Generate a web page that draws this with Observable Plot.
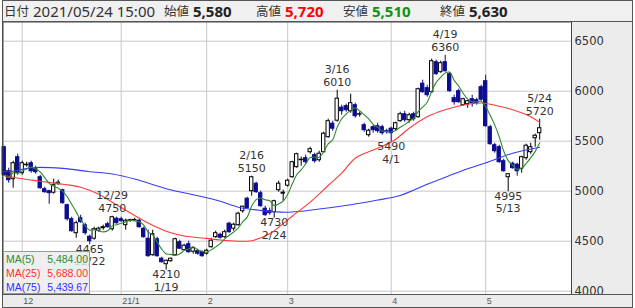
<!DOCTYPE html>
<html><head><meta charset="utf-8">
<script src="https://cdn.jsdelivr.net/npm/d3@7"></script>
<script src="https://cdn.jsdelivr.net/npm/@observablehq/plot@0.6"></script>
<style>
body{margin:0;background:#fff;}
#wrap{position:relative;width:635px;height:308px;overflow:hidden;}
#frame{position:absolute;left:2px;top:0;width:631px;height:308px;box-sizing:border-box;border:1px solid #555;background:#ececec;}
#hdr{position:absolute;left:2px;top:0;width:631px;height:22px;box-sizing:border-box;border:1px solid #555;background:#f0f0f0;}
.h{position:absolute;top:1px;line-height:20px;white-space:nowrap;}
.lab{font-family:"Noto Sans CJK JP";font-size:12.5px;color:#333;}
.dt{font-family:"Noto Sans";font-size:15px;color:#333;}
.val{font-family:"Noto Sans";font-weight:bold;font-size:15px;color:#222;}
#chart{position:absolute;left:0;top:21px;}
#strip{position:absolute;left:2px;top:294px;width:631px;border-top:1px solid #555;}
#legend{position:absolute;left:3px;top:251px;width:87px;height:43px;box-sizing:border-box;border:1px solid #999;background:rgba(236,236,236,0.85);font-family:"Liberation Sans";font-size:10.5px;}
#legend div{position:absolute;left:2px;width:82px;line-height:14px;}
#legend span.v{position:absolute;right:0;}
</style></head>
<body>
<div id="wrap">
  <div id="frame"></div>
  <div id="chart"></div>
  <div id="strip"></div>
  <div id="hdr"></div>
  <div class="h lab" style="left:4px">日付</div>
  <div class="h dt" style="left:33px" id="hdate"></div>
  <div class="h lab" style="left:164px">始値</div>
  <div class="h val" style="left:193px" id="hopen"></div>
  <div class="h lab" style="left:256px">高値</div>
  <div class="h val" style="left:285px;color:#f00" id="hhigh"></div>
  <div class="h lab" style="left:343px">安値</div>
  <div class="h val" style="left:372px;color:#129012" id="hlow"></div>
  <div class="h lab" style="left:440px">終値</div>
  <div class="h val" style="left:469px" id="hclose"></div>
  <div id="legend"></div>
</div>
<script>
const dates = [
"2020-11-25","2020-11-26","2020-11-27","2020-11-30",
"2020-12-01","2020-12-02","2020-12-03","2020-12-04","2020-12-07","2020-12-08","2020-12-09","2020-12-10","2020-12-11","2020-12-14","2020-12-15","2020-12-16","2020-12-17","2020-12-18","2020-12-21","2020-12-22","2020-12-23","2020-12-24","2020-12-25","2020-12-28","2020-12-29","2020-12-30",
"2021-01-04","2021-01-05","2021-01-06","2021-01-07","2021-01-08","2021-01-12","2021-01-13","2021-01-14","2021-01-15","2021-01-18","2021-01-19","2021-01-20","2021-01-21","2021-01-22","2021-01-25","2021-01-26","2021-01-27","2021-01-28","2021-01-29",
"2021-02-01","2021-02-02","2021-02-03","2021-02-04","2021-02-05","2021-02-08","2021-02-09","2021-02-10","2021-02-12","2021-02-15","2021-02-16","2021-02-17","2021-02-18","2021-02-19","2021-02-22","2021-02-24","2021-02-25","2021-02-26",
"2021-03-01","2021-03-02","2021-03-03","2021-03-04","2021-03-05","2021-03-08","2021-03-09","2021-03-10","2021-03-11","2021-03-12","2021-03-15","2021-03-16","2021-03-17","2021-03-18","2021-03-19","2021-03-22","2021-03-23","2021-03-24","2021-03-25","2021-03-26","2021-03-29","2021-03-30","2021-03-31",
"2021-04-01","2021-04-02","2021-04-05","2021-04-06","2021-04-07","2021-04-08","2021-04-09","2021-04-12","2021-04-13","2021-04-14","2021-04-15","2021-04-16","2021-04-19","2021-04-20","2021-04-21","2021-04-22","2021-04-23","2021-04-26","2021-04-27","2021-04-28","2021-04-30",
"2021-05-06","2021-05-07","2021-05-10","2021-05-11","2021-05-12","2021-05-13","2021-05-14","2021-05-17","2021-05-18","2021-05-19","2021-05-20","2021-05-21","2021-05-24"];

const opens = [5440,5200,5120,5340,
5180,5260,5280,5230,5140,5020,5000,4985,5070,5010,4860,4720,4580,4730,4660,4545,4525,4605,4630,4670,4620,4725,
4720,4660,4705,4710,4705,4625,4525,4360,4520,4325,4270,4300,4360,4490,4410,4470,4395,4400,4390,
4375,4440,4540,4565,4540,4675,4625,4660,4800,4925,5000,5075,4980,4825,4800,4790,5010,4975,
5055,5140,5240,5310,5330,5390,5360,5310,5390,5540,5675,5705,5835,5850,5800,5860,5765,5660,5560,5640,5650,5640,5600,
5625,5620,5700,5770,5710,5770,5740,6075,6030,5990,6290,6190,6290,6170,5930,6000,5860,5870,5920,5910,6040,
6100,5640,5460,5440,5300,5140,5275,5265,5225,5330,5390,5530,5580];
const highs = [5450,5230,5300,5370,
5300,5290,5300,5250,5160,5040,5010,5120,5110,5020,4870,4740,4700,4760,4680,4560,4640,4640,4660,4690,4750,4740,
4740,4720,4720,4730,4720,4640,4610,4610,4540,4340,4310,4330,4530,4510,4470,4500,4440,4420,4400,
4420,4530,4600,4580,4610,4690,4680,4790,4850,4940,5150,5090,5000,4850,4830,4910,5100,5010,
5120,5300,5380,5340,5360,5440,5380,5400,5590,5720,5700,6010,5860,5870,5970,5880,5790,5680,5620,5660,5680,5660,5620,
5640,5690,5790,5800,5780,5790,6030,6110,6060,6320,6310,6300,6360,6190,5960,6020,5930,5910,5960,5930,6060,
6160,5660,5480,5460,5320,5175,5290,5280,5350,5470,5480,5570,5720];
const lows = [5150,5080,5030,5160,
5160,5240,5180,5170,5020,4980,4870,4970,5060,4870,4700,4590,4530,4680,4560,4465,4510,4590,4610,4630,4600,4670,
4690,4610,4690,4700,4630,4530,4340,4350,4340,4280,4210,4290,4350,4420,4400,4380,4370,4360,4340,
4360,4430,4530,4520,4530,4580,4600,4650,4780,4820,4950,4980,4840,4750,4760,4730,4990,4900,
5040,5130,5230,5250,5270,5370,5280,5290,5380,5530,5600,5690,5760,5790,5780,5730,5740,5590,5540,5580,5580,5560,5570,
5490,5600,5690,5690,5680,5700,5730,5980,5940,5980,6160,6180,6190,5990,5860,5880,5850,5830,5840,5860,5900,
5640,5460,5380,5280,5190,4995,5220,5150,5180,5310,5370,5440,5510];
const closes = [5160,5110,5280,5180,
5280,5265,5200,5190,5030,4990,4980,5060,5085,4880,4720,4600,4680,4690,4580,4500,4620,4625,4640,4640,4740,4680,
4700,4705,4710,4712,4640,4540,4350,4570,4350,4290,4305,4325,4520,4425,4455,4390,4430,4375,4350,
4405,4505,4580,4535,4590,4590,4665,4775,4845,4830,5140,4990,4850,4760,4780,4900,5075,4985,
5105,5290,5370,5315,5290,5420,5300,5375,5575,5700,5625,5925,5800,5810,5880,5750,5770,5610,5605,5610,5600,5580,5590,
5580,5680,5770,5710,5760,5720,6020,5990,5960,6300,6170,6280,6200,6000,5890,5890,5920,5900,5880,5880,5915,
5650,5470,5400,5290,5200,5170,5230,5200,5340,5455,5440,5555,5630];

// moving averages (sample dates / values)
const ma25Dates = ["2020-11-25","2020-12-01","2020-12-07","2020-12-14","2020-12-18","2020-12-24","2020-12-29","2021-01-05","2021-01-12","2021-01-19","2021-01-25","2021-02-01","2021-02-04","2021-02-10","2021-02-16","2021-02-22","2021-02-25","2021-03-02","2021-03-08","2021-03-12","2021-03-17","2021-03-22","2021-03-25","2021-03-30","2021-04-02","2021-04-07","2021-04-13","2021-04-19","2021-04-23","2021-04-30","2021-05-11","2021-05-17","2021-05-20","2021-05-24"];
const ma25Values = [5157,5124,5100,5070,5040,4970,4890,4810,4705,4600,4552,4528,4512,4500,4505,4575,4640,4750,4890,5057,5180,5330,5395,5450,5520,5630,5745,5815,5862,5882,5850,5800,5745,5688];
const ma75Dates = ["2020-11-25","2020-11-27","2020-12-03","2020-12-14","2020-12-22","2020-12-29","2021-01-07","2021-01-19","2021-01-29","2021-02-04","2021-02-10","2021-02-18","2021-03-01","2021-03-10","2021-03-19","2021-03-29","2021-04-05","2021-04-13","2021-04-20","2021-04-26","2021-05-07","2021-05-14","2021-05-24"];
const ma75Values = [5195,5200,5235,5228,5195,5172,5122,5025,4945,4900,4840,4808,4790,4822,4865,4912,4957,5070,5157,5224,5300,5380,5439.67];

const yTicks = [4000,4500,5000,5500,6000,6500];
const monthDates = ["2020-12-01","2021-01-04","2021-02-01","2021-03-01","2021-04-01","2021-05-06"];
const monthLabels = ["12","21/1","2","3","4","5"];
const highMarkDates = ["2020-12-29","2021-02-16","2021-03-16","2021-04-19","2021-05-24"];
const lowMarkDates = ["2020-12-22","2021-01-19","2021-02-24","2021-04-01","2021-05-13"];

const navy = "#0c0c8e";
const idx = d => dates.indexOf(d);
const candles = dates.map((d, i) => ({i, date: d, open: opens[i], high: highs[i], low: lows[i], close: closes[i], up: closes[i] >= opens[i]}));
const ma25 = ma25Dates.map((d, k) => ({i: idx(d), v: ma25Values[k]}));
const ma75 = ma75Dates.map((d, k) => ({i: idx(d), v: ma75Values[k]}));
const md = s => { const [, m, dd] = s.split("-"); return (+m) + "/" + (+dd); };
const highAnn = highMarkDates.map(d => ({i: idx(d), v: highs[idx(d)], lab: md(d)}));
const lowAnn = lowMarkDates.map(d => ({i: idx(d), v: lows[idx(d)], lab: md(d)}));
const monthIdx = monthDates.map(idx);

const font = "DejaVu Sans";
const fs = 11;
const chart = Plot.plot({
  width: 635, height: 287,
  marginLeft: 2.5, marginRight: 64, marginTop: 0.5, marginBottom: 14,
  x: {type: "linear", domain: [-0.2667, 126.067], axis: null},
  y: {domain: [3967, 6692], axis: null},
  style: {background: "transparent", fontFamily: font},
  marks: [
    Plot.frame({fill: "white"}),
    Plot.ruleY(yTicks, {stroke: "#c8c8c8", strokeWidth: 1}),
    Plot.ruleX(monthIdx, {stroke: "#c8c8c8", strokeWidth: 1}),
    Plot.ruleX(candles, {x: "i", y1: "low", y2: "high", stroke: d => d.up ? "#000" : navy, strokeWidth: 1}),
    Plot.rect(candles, {x1: d => d.i - 0.37, x2: d => d.i + 0.37,
      y1: d => Math.min(d.open, d.close), y2: d => Math.max(d.open, d.close),
      fill: d => d.up ? "#fff" : navy, stroke: d => d.up ? "#000" : navy, strokeWidth: 1}),
    Plot.line(ma75, {x: "i", y: "v", stroke: "#3a3aff", strokeWidth: 1.1, curve: "catmull-rom"}),
    Plot.line(ma25, {x: "i", y: "v", stroke: "#ff3a3a", strokeWidth: 1.1, curve: "catmull-rom"}),
    Plot.lineY(candles, Plot.windowY({k: 5, anchor: "end", reduce: "mean", strict: false},
      {x: "i", y: "close", stroke: "#2e8b2e", strokeWidth: 1.1, curve: "catmull-rom"})),
    Plot.text(highAnn, {x: "i", y: "v", text: "lab", dy: -20.5, fontSize: fs, fill: "#333", fontFamily: font}),
    Plot.text(highAnn, {x: "i", y: "v", text: d => String(d.v), dy: -8, fontSize: fs, fill: "#333", fontFamily: font}),
    Plot.text(lowAnn, {x: "i", y: "v", text: d => String(d.v), dy: 4.5, fontSize: fs, fill: "#333", fontFamily: font}),
    Plot.text(lowAnn, {x: "i", y: "v", text: "lab", dy: 17, fontSize: fs, fill: "#333", fontFamily: font}),
    Plot.frame({stroke: "#444", strokeWidth: 1}),
    Plot.axisY({anchor: "right", ticks: yTicks, tickSize: 0, tickPadding: 3, textAnchor: "start",
      tickFormat: d => String(d), fontSize: 11.5, fill: "#333", label: null, fontFamily: font}),
    Plot.axisX({anchor: "bottom", ticks: monthIdx, tickSize: 0, tickPadding: 3, textAnchor: "start", dx: 1,
      tickFormat: (d) => monthLabels[monthIdx.indexOf(d)], fontSize: 9, fill: "#555", label: null, fontFamily: "Liberation Sans"})
  ]
});
document.getElementById("chart").appendChild(chart);

// header & legend
const last = candles[candles.length - 1];
const f0 = d3.format(",");
document.getElementById("hdate").textContent = "2021/05/24 15:00";
document.getElementById("hopen").textContent = f0(last.open);
document.getElementById("hhigh").textContent = f0(last.high);
document.getElementById("hlow").textContent = f0(last.low);
document.getElementById("hclose").textContent = f0(last.close);
const f2 = d3.format(",.2f");
const ma5Last = d3.mean(closes.slice(-5));
const legendRows = [
  ["MA(5)", ma5Last, "#2e8b2e"],
  ["MA(25)", ma25Values[ma25Values.length - 1], "#ff3030"],
  ["MA(75)", ma75Values[ma75Values.length - 1], "#3030ff"]
];
const lg = document.getElementById("legend");
legendRows.forEach(([name, v, c], k) => {
  const row = document.createElement("div");
  row.style.top = (k * 14.2) + "px";
  row.style.color = c;
  row.innerHTML = `<span>${name}</span><span class="v">${f2(v)}</span>`;
  lg.appendChild(row);
});
</script>
</body></html>
